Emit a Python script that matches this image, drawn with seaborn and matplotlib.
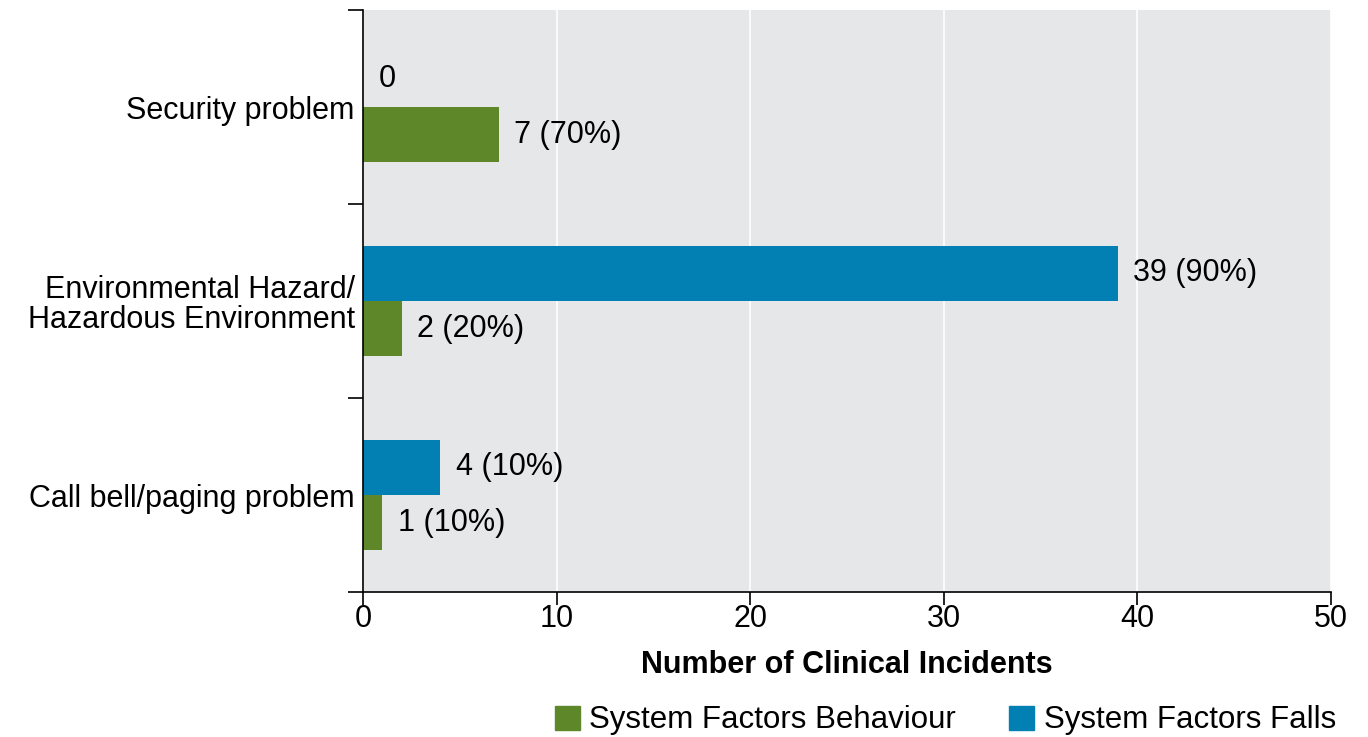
import matplotlib
matplotlib.use("Agg")
import matplotlib.pyplot as plt
from matplotlib.patches import Patch
from matplotlib.ticker import FixedLocator
import seaborn as sns
import pandas as pd

# Data
categories = ["Security problem", "Environmental Hazard/\nHazardous Environment", "Call bell/paging problem"]
falls = [0, 39, 4]
behaviour = [7, 2, 1]
falls_labels = ["0", "39 (90%)", "4 (10%)"]
behaviour_labels = ["7 (70%)", "2 (20%)", "1 (10%)"]
series = ["System Factors Falls", "System Factors Behaviour"]
colors = {"System Factors Falls": "#0380B3", "System Factors Behaviour": "#5E8729"}

df = pd.DataFrame({
    "category": categories * 2,
    "count": falls + behaviour,
    "series": [series[0]] * 3 + [series[1]] * 3,
    "label": falls_labels + behaviour_labels,
})

sns.set_style("white")
plt.rcParams["font.family"] = ["Liberation Sans", "DejaVu Sans"]
plt.rcParams["text.color"] = "black"
plt.rcParams["xtick.color"] = "black"
plt.rcParams["ytick.color"] = "black"
plt.rcParams["axes.labelcolor"] = "black"

FS = 22

fig = plt.figure(figsize=(13.68, 7.37), dpi=100)
ax = fig.add_axes([363 / 1368, 1 - 592 / 737, (1331 - 363) / 1368, (592 - 10) / 737])

sns.barplot(data=df, y="category", x="count", hue="series", hue_order=series,
            order=categories, palette=colors, orient="h", width=0.57, gap=0,
            saturation=1, linewidth=0, legend=False, ax=ax)

ax.set_facecolor("#E6E7E9")
ax.set_xlim(0, 50)
ax.set_ylim(2.5, -0.5)
ax.set_xticks([0, 10, 20, 30, 40, 50])
ax.xaxis.grid(True, color="white", linewidth=1.2)
ax.set_axisbelow(True)
for s in ["top", "right"]:
    ax.spines[s].set_visible(False)
for s in ["left", "bottom"]:
    ax.spines[s].set_color("black")
    ax.spines[s].set_linewidth(1.2)

ax.tick_params(axis="x", which="major", direction="out", length=9.5, width=1.2,
               color="black", labelsize=FS, pad=-1, bottom=True)
ax.tick_params(axis="y", which="major", length=0, labelsize=FS, pad=6)
ax.yaxis.set_minor_locator(FixedLocator([-0.5, 0.5, 1.5, 2.5]))
ax.tick_params(axis="y", which="minor", direction="out", length=11, width=1.2,
               color="black", left=True)
for t in ax.get_yticklabels():
    t.set_horizontalalignment("right")
    t.set_multialignment("right")
    t.set_linespacing(1.0)

ax.set_ylabel("")
ax.set_xlabel("Number of Clinical Incidents", fontsize=FS, fontweight="bold", labelpad=12)

# value labels
for cont, labels in zip(ax.containers, [falls_labels, behaviour_labels]):
    ax.bar_label(cont, labels=labels, padding=11, fontsize=FS)

handles = [Patch(color=colors[series[1]], label=series[1]),
           Patch(color=colors[series[0]], label=series[0])]
fig.legend(handles=handles, loc="lower right", bbox_to_anchor=(0.997, -0.036), ncol=2,
           frameon=False, handlelength=0.8, handleheight=0.8,
           handletextpad=0.3, columnspacing=1.7,
           prop={"family": ["Liberation Sans Narrow", "Liberation Sans"], "size": 22.5})

fig.savefig("out.png", dpi=100)
